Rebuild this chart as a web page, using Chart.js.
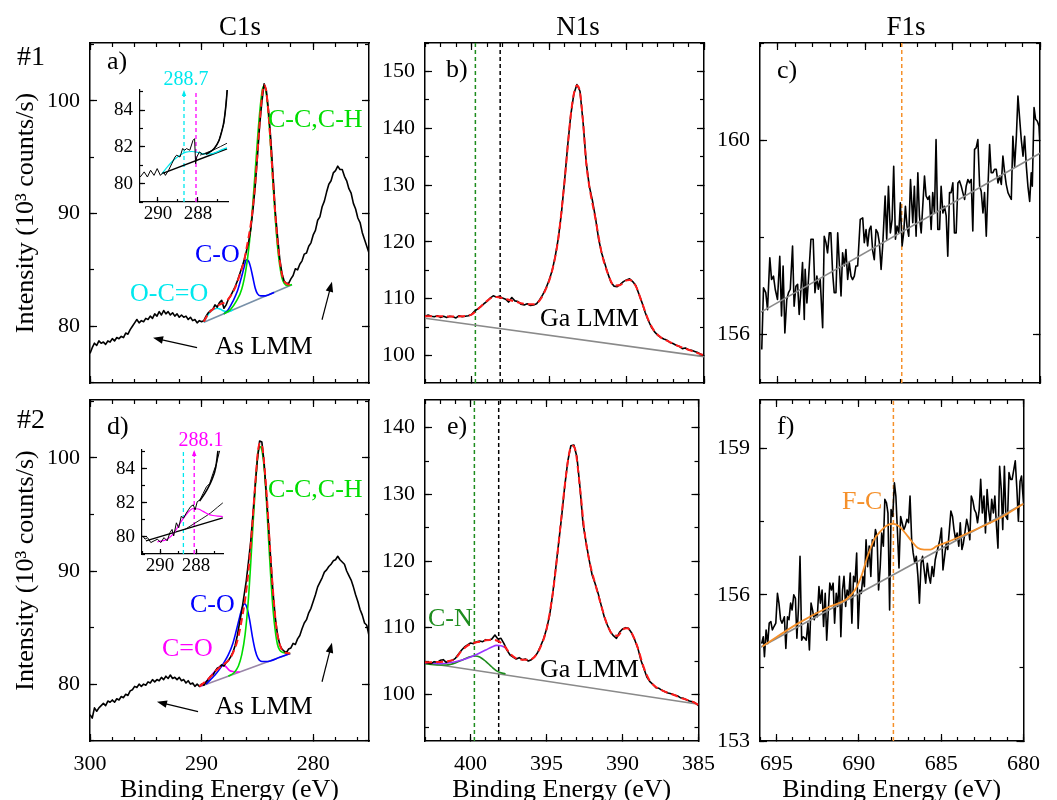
<!DOCTYPE html>
<html lang="en">
<head>
<meta charset="utf-8">
<title>XPS C1s, N1s and F1s spectra</title>
<script src="https://cdn.jsdelivr.net/npm/chart.js@4.4.0/dist/chart.umd.min.js"></script>
<style>
  html, body { margin: 0; padding: 0; background: #fff; overflow: hidden; }
  #figure { position: relative; width: 1057px; height: 800px; overflow: hidden; }
  #figure canvas { position: absolute; }
</style>
</head>
<body>
<div id="figure"></div>
<script>
// ---------- C1s, samples #1 and #2 (same energy grid) ----------
const c1sEnergy = [
  300.0, 299.8, 299.6, 299.4, 299.2, 299.0, 298.8, 298.6, 298.4, 298.2,
  298.0, 297.8, 297.6, 297.4, 297.2, 297.0, 296.8, 296.6, 296.4, 296.2,
  296.0, 295.8, 295.6, 295.4, 295.2, 295.0, 294.8, 294.6, 294.4, 294.2,
  294.0, 293.8, 293.6, 293.4, 293.2, 293.0, 292.8, 292.6, 292.4, 292.2,
  292.0, 291.8, 291.6, 291.4, 291.2, 291.0, 290.8, 290.6, 290.4, 290.2,
  290.0, 289.8, 289.6, 289.4, 289.2, 289.0, 288.8, 288.6, 288.4, 288.2,
  288.0, 287.8, 287.6, 287.4, 287.2, 287.0, 286.8, 286.6, 286.4, 286.2,
  286.0, 285.8, 285.6, 285.4, 285.2, 285.0, 284.8, 284.6, 284.4, 284.2,
  284.0, 283.8, 283.6, 283.4, 283.2, 283.0, 282.8, 282.6, 282.4, 282.2,
  282.0, 281.8, 281.6, 281.4, 281.2, 281.0, 280.8, 280.6, 280.4, 280.2,
  280.0, 279.8, 279.6, 279.4, 279.2, 279.0, 278.8, 278.6, 278.4, 278.2,
  278.0, 277.8, 277.6, 277.4, 277.2, 277.0, 276.8, 276.6, 276.4, 276.2,
  276.0, 275.8, 275.6, 275.4, 275.2, 275.0
];
const c1s1Counts = [
  77.6, 78.1, 78.5, 78.3, 78.7, 78.5, 78.6, 78.4, 78.7, 78.6,
  78.9, 78.7, 79.0, 78.9, 79.1, 79.0, 79.4, 79.3, 79.7, 80.0,
  80.3, 80.6, 80.3, 80.5, 80.4, 80.7, 80.6, 80.9, 80.7, 81.1,
  80.9, 81.3, 81.0, 81.4, 81.1, 81.3, 81.0, 81.2, 80.9, 81.1,
  80.8, 81.0, 80.8, 80.9, 80.6, 80.8, 80.5, 80.6, 80.3, 80.5,
  80.4, 80.5, 80.9, 81.2, 81.4, 81.5, 81.9, 81.7, 82.1, 82.3,
  81.6, 81.9, 82.4, 82.7, 83.1, 83.5, 84.0, 84.6, 85.2, 85.8,
  86.6, 87.4, 88.6, 90.3, 92.4, 95.0, 97.8, 99.9, 101.5, 100.9,
  99.1, 96.6, 93.4, 90.2, 88.0, 86.0, 84.7, 84.0, 83.8, 83.8,
  84.2, 84.5, 85.1, 85.0, 85.5, 85.8, 86.4, 86.5, 87.1, 87.4,
  88.1, 88.5, 89.4, 89.7, 90.6, 91.1, 91.9, 92.6, 92.9, 93.6,
  93.8, 94.2, 93.9, 93.9, 93.3, 92.9, 92.2, 91.8, 90.9, 90.4,
  89.6, 89.2, 88.3, 87.7, 87.1, 86.5
];
const c1s2Counts = [
  77.3, 77.0, 77.9, 77.6, 77.9, 78.1, 78.3, 78.1, 78.5, 78.4,
  78.6, 78.4, 78.7, 78.6, 78.9, 78.8, 79.1, 79.0, 79.4, 79.5,
  79.8, 79.7, 80.0, 79.8, 80.0, 79.9, 80.2, 80.1, 80.4, 80.2,
  80.4, 80.3, 80.6, 80.4, 80.7, 80.5, 80.8, 80.5, 80.6, 80.4,
  80.6, 80.3, 80.4, 80.1, 80.3, 80.0, 80.1, 79.8, 80.0, 79.8,
  80.0, 79.9, 80.2, 80.4, 80.7, 80.8, 81.1, 81.4, 81.5, 81.7,
  81.6, 81.9, 82.1, 82.4, 82.8, 83.4, 84.3, 85.4, 86.5, 87.8,
  89.1, 90.8, 92.6, 95.0, 97.6, 99.9, 101.5, 101.4, 99.6, 96.8,
  94.0, 90.9, 88.1, 85.9, 84.4, 83.5, 83.1, 82.9, 82.8, 83.1,
  83.2, 83.6, 83.5, 84.0, 84.3, 84.9, 85.4, 85.7, 86.3, 86.7,
  87.3, 87.9, 88.6, 89.0, 89.4, 89.9, 90.1, 90.4, 90.6, 90.9,
  91.0, 91.3, 91.0, 90.8, 90.6, 90.0, 89.6, 89.2, 88.6, 87.9,
  87.3, 86.6, 86.1, 85.4, 85.2, 84.3
];

// C1s #1 fit: sum, C-C/C-H, C-O, O-C=O, background
const c1s1SumEnergy = [289.8, 289.4, 289.0, 288.6, 288.2, 287.8, 287.4, 287.0, 286.6, 286.2, 285.9, 285.6, 285.4, 285.2, 285.0, 284.8, 284.6, 284.4, 284.2, 284.0, 283.8, 283.6, 283.4, 283.2, 283.0, 282.8, 282.6, 282.4, 282.2, 281.9];
const c1s1Sum = [80.4, 81.1, 81.5, 81.8, 82.0, 82.2, 82.7, 83.4, 84.5, 85.8, 87.3, 89.0, 90.6, 92.6, 95.3, 98.0, 100.3, 101.4, 100.8, 98.8, 96.0, 92.9, 90.0, 87.6, 85.8, 84.6, 84.0, 83.8, 83.7, 83.7];
const c1s1CCEnergy = [288.0, 287.4, 286.9, 286.4, 286.0, 285.7, 285.4, 285.1, 284.8, 284.55, 284.4, 284.2, 284.0, 283.8, 283.6, 283.4, 283.2, 283.0, 282.8, 282.6, 282.3, 281.9];
const c1s1CC = [81.1, 81.5, 82.2, 83.3, 85.2, 87.6, 91.0, 95.1, 98.9, 101.0, 101.3, 100.6, 98.6, 95.8, 92.6, 89.6, 87.1, 85.4, 84.3, 83.8, 83.6, 83.7];
const c1s1COEnergy = [288.0, 287.6, 287.2, 286.8, 286.5, 286.2, 286.0, 285.8, 285.6, 285.4, 285.2, 285.0, 284.7, 284.3, 283.5];
const c1s1CO = [81.1, 81.5, 82.2, 83.1, 84.1, 85.2, 85.9, 85.8, 85.2, 84.3, 83.4, 82.9, 82.7, 82.7, 83.0];
const c1s1OCOEnergy = [289.8, 289.5, 289.2, 288.9, 288.6, 288.3, 288.0, 287.6, 287.2];
const c1s1OCO = [80.35, 80.9, 81.3, 81.5, 81.6, 81.5, 81.35, 81.3, 81.45];
const c1s1BgEnergy = [289.8, 281.9];
const c1s1Bg = [80.35, 83.68];

// C1s #2 fit: sum, C-C/C-H, C-O, C=O, background
const c1s2SumEnergy = [290.2, 289.7, 289.2, 288.7, 288.1, 287.5, 287.0, 286.7, 286.4, 286.1, 285.8, 285.5, 285.2, 284.95, 284.75, 284.55, 284.35, 284.15, 283.9, 283.6, 283.3, 283.0, 282.7, 282.4, 282.06];
const c1s2Sum = [79.8, 80.2, 80.65, 81.2, 81.7, 82.2, 83.2, 84.2, 85.7, 87.5, 90.0, 93.5, 97.6, 100.6, 101.3, 100.9, 99.0, 96.5, 92.5, 88.2, 85.0, 83.5, 82.9, 82.75, 82.71];
const c1s2CCEnergy = [287.6, 287.1, 286.7, 286.4, 286.1, 285.8, 285.5, 285.2, 284.95, 284.78, 284.6, 284.4, 284.2, 284.0, 283.8, 283.6, 283.4, 283.2, 283.0, 282.7, 282.4, 282.06];
const c1s2CC = [80.7, 81.0, 81.6, 82.6, 84.4, 87.6, 92.3, 97.2, 100.3, 101.0, 100.7, 99.2, 96.4, 92.8, 89.4, 86.6, 84.7, 83.5, 83.0, 82.8, 82.75, 82.71];
const c1s2COEnergy = [289.6, 289.2, 288.8, 288.4, 288.0, 287.6, 287.2, 286.9, 286.6, 286.35, 286.15, 285.95, 285.7, 285.45, 285.2, 284.95, 284.6, 284.2, 283.0, 282.06];
const c1s2CO = [80.0, 80.4, 80.8, 81.3, 81.9, 82.6, 83.6, 84.7, 85.9, 86.8, 87.1, 86.8, 85.7, 84.2, 83.0, 82.3, 82.0, 82.0, 82.37, 82.71];
const c1s2CdOEnergy = [290.1, 289.6, 289.1, 288.6, 288.2, 287.9, 287.5, 287.1, 286.6];
const c1s2CdO = [79.8, 80.2, 80.8, 81.35, 81.65, 81.6, 81.2, 81.1, 81.07];
const c1s2BgEnergy = [290.19, 282.06];
const c1s2Bg = [79.76, 82.71];

// C1s close-ups of the 287-291 eV region
const c1s1ZoomEnergy = [290.89, 290.69, 290.53, 290.37, 290.2, 290.04, 289.88, 289.72, 289.63, 289.47, 289.31, 289.15, 289.07, 288.9, 288.77, 288.66, 288.58, 288.41, 288.25, 288.17, 288.12, 288.06, 287.93, 287.77, 287.6, 287.44, 287.28, 287.12, 286.95, 286.83, 286.71, 286.62, 286.54];
const c1s1ZoomCounts = [80.36, 80.64, 80.36, 80.73, 80.45, 80.82, 80.45, 80.64, 80.45, 80.73, 81.09, 81.45, 81.55, 81.45, 81.91, 81.82, 81.91, 81.82, 82.36, 82.45, 81.09, 81.45, 81.73, 81.6, 81.64, 81.7, 81.82, 82.0, 82.36, 82.8, 83.27, 84.1, 85.09];
const c1s1ZoomOCOEnergy = [289.8, 289.5, 289.2, 288.9, 288.6, 288.3, 288.0, 287.7, 287.4, 287.1, 286.8, 286.55];
const c1s1ZoomOCO = [80.55, 80.95, 81.3, 81.55, 81.72, 81.75, 81.7, 81.62, 81.62, 81.7, 81.85, 81.95];
const c1s1ZoomBgEnergy = [289.8, 286.55];
const c1s1ZoomBg = [80.55, 81.9];
const c1s1ZoomCOEnergy = [287.9, 287.2, 286.55];
const c1s1ZoomCO = [81.55, 81.85, 82.2];
const c1s1ZoomSumEnergy = [287.6, 287.2, 286.95, 286.8, 286.7, 286.6, 286.54];
const c1s1ZoomSum = [81.6, 81.9, 82.35, 82.9, 83.4, 84.3, 85.1];

const c1s2ZoomEnergy = [290.96, 290.83, 290.69, 290.51, 290.33, 290.14, 289.96, 289.78, 289.6, 289.45, 289.33, 289.24, 289.09, 288.96, 288.82, 288.69, 288.54, 288.42, 288.29, 288.15, 288.05, 287.93, 287.78, 287.6, 287.42, 287.24, 287.06, 286.87, 286.69];
const c1s2ZoomCounts = [80.06, 79.87, 79.96, 79.67, 79.77, 79.87, 79.67, 79.96, 79.77, 80.25, 80.44, 80.06, 80.83, 80.54, 81.21, 81.11, 81.4, 81.59, 81.79, 81.88, 81.59, 82.07, 82.17, 82.56, 82.94, 83.13, 83.71, 84.28, 85.05];
const c1s2ZoomCdOEnergy = [290.14, 289.6, 289.24, 288.87, 288.51, 288.15, 287.87, 287.6, 287.33, 287.06, 286.78, 286.51];
const c1s2ZoomCdO = [79.71, 79.87, 80.21, 80.83, 81.36, 81.67, 81.64, 81.5, 81.34, 81.26, 81.22, 81.2];
const c1s2ZoomBgEnergy = [290.78, 286.51];
const c1s2ZoomBg = [79.77, 81.12];
const c1s2ZoomCOEnergy = [288.6, 288.15, 287.7, 287.2, 286.8, 286.51];
const c1s2ZoomCO = [80.45, 80.75, 81.05, 81.4, 81.75, 82.0];
const c1s2ZoomSumEnergy = [287.8, 287.4, 287.1, 286.9, 286.78];
const c1s2ZoomSum = [82.1, 82.75, 83.4, 84.1, 85.05];

const c1sMarkers = [288.7, 288.1];   // O-C=O, C=O positions

// ---------- N1s ----------
const n1sEnergy = [
  403.0, 402.8, 402.6, 402.4, 402.2, 402.0, 401.8, 401.6, 401.4, 401.2,
  401.0, 400.8, 400.6, 400.4, 400.2, 400.0, 399.8, 399.6, 399.4, 399.2,
  399.0, 398.8, 398.6, 398.4, 398.2, 398.0, 397.8, 397.6, 397.4, 397.2,
  397.0, 396.8, 396.6, 396.4, 396.2, 396.0, 395.8, 395.6, 395.4, 395.2,
  395.0, 394.8, 394.6, 394.4, 394.2, 394.0, 393.8, 393.6, 393.4, 393.2,
  393.0, 392.8, 392.6, 392.4, 392.2, 392.0, 391.8, 391.6, 391.4, 391.2,
  391.0, 390.8, 390.6, 390.4, 390.2, 390.0, 389.8, 389.6, 389.4, 389.2,
  389.0, 388.8, 388.6, 388.4, 388.2, 388.0, 387.8, 387.6, 387.4, 387.2,
  387.0, 386.8, 386.6, 386.4, 386.2, 386.0, 385.8, 385.6, 385.4, 385.2,
  385.0
];
const n1s1Counts = [
  106.9, 107.1, 106.9, 106.8, 107.0, 106.7, 106.9, 106.7, 106.9, 106.8,
  106.6, 107.0, 106.8, 106.9, 107.0, 107.2, 107.8, 108.2, 108.6, 109.1,
  109.5, 110.1, 110.5, 110.3, 110.4, 110.1, 109.9, 109.4, 110.2, 109.6,
  109.5, 109.0, 108.9, 109.1, 108.8, 108.9, 109.1, 109.8, 110.7, 111.8,
  113.2, 114.9, 117.4, 120.6, 125.0, 130.6, 136.8, 142.2, 146.0, 147.7,
  146.5, 141.0, 134.0, 129.8, 127.3, 124.2, 120.5, 118.0, 116.2, 114.4,
  112.9, 112.2, 112.1, 112.5, 113.0, 113.3, 113.5, 113.0, 112.3, 110.8,
  109.3, 107.6, 106.2, 105.0, 104.2, 103.6, 103.2, 102.9, 102.7, 102.3,
  102.1, 101.8, 101.6, 101.2, 101.3, 101.0, 100.9, 100.7, 100.5, 100.2,
  100.0
];
const n1s2Counts = [
  104.8, 104.7, 104.6, 104.9, 104.8, 105.1, 105.2, 104.8, 105.0, 105.1,
  105.4, 106.0, 106.6, 107.1, 107.4, 107.7, 107.6, 107.9, 108.0, 107.9,
  108.2, 108.1, 108.3, 108.9, 108.3, 108.4, 107.6, 106.6, 105.9, 105.6,
  105.3, 105.5, 105.2, 105.3, 105.0, 105.2, 105.6, 106.2, 107.2, 108.3,
  109.8, 111.8, 115.0, 118.8, 122.8, 126.8, 131.3, 135.0, 137.3, 137.4,
  135.6, 131.0, 125.6, 122.8, 120.2, 117.9, 116.6, 115.1, 113.3, 111.6,
  110.4, 109.4, 108.8, 108.4, 109.3, 109.8, 110.0, 109.9, 109.2, 108.2,
  107.0, 105.2, 103.9, 102.6, 101.9, 101.5, 101.0, 100.9, 100.6, 100.4,
  100.2, 100.1, 99.9, 99.8, 99.5, 99.4, 99.2, 99.0, 98.9, 98.7,
  98.3
];
const n1s1FitEnergy = [403.0, 402.2, 401.4, 400.6, 400.0, 399.6, 399.2, 398.8, 398.4, 398.0, 397.6, 397.2, 396.8, 396.4, 396.0, 395.6, 395.2, 394.8, 394.4, 394.0, 393.6, 393.4, 393.2, 393.0, 392.8, 392.6, 392.4, 392.0, 391.6, 391.2, 390.8, 390.4, 390.0, 389.8, 389.4, 389.0, 388.6, 388.2, 387.8, 387.4, 387.0, 386.6, 386.2, 385.8, 385.4, 385.0];
const n1s1Fit = [106.9, 106.9, 106.85, 106.9, 107.2, 108.1, 109.1, 110.0, 110.3, 110.1, 109.8, 109.5, 109.2, 109.0, 109.0, 109.7, 111.7, 114.9, 120.6, 130.6, 142.2, 146.0, 147.5, 146.3, 141.0, 134.0, 129.8, 124.0, 118.0, 114.4, 112.3, 112.4, 113.2, 113.3, 112.2, 109.3, 106.3, 104.3, 103.2, 102.6, 102.1, 101.6, 101.2, 100.8, 100.4, 100.0];
const n1s2FitEnergy = [403.0, 402.2, 401.4, 401.0, 400.6, 400.2, 399.8, 399.4, 399.0, 398.6, 398.2, 397.8, 397.4, 397.0, 396.6, 396.2, 395.8, 395.4, 395.0, 394.6, 394.2, 393.8, 393.5, 393.3, 393.1, 392.8, 392.5, 392.2, 391.8, 391.4, 391.0, 390.6, 390.3, 390.0, 389.7, 389.4, 389.0, 388.6, 388.2, 387.8, 387.4, 387.0, 386.6, 386.2, 385.8, 385.4, 385.0];
const n1s2Fit = [104.8, 104.85, 105.0, 105.4, 106.5, 107.3, 107.7, 107.9, 108.1, 108.2, 108.0, 107.3, 106.1, 105.4, 105.2, 105.2, 105.6, 107.1, 109.8, 115.0, 122.8, 131.3, 136.3, 137.3, 136.6, 131.0, 124.3, 120.2, 116.6, 113.3, 110.4, 108.9, 108.8, 109.7, 109.9, 109.2, 107.0, 104.0, 102.0, 101.1, 100.6, 100.2, 99.9, 99.5, 99.2, 98.9, 98.4];
const n1s2CNEnergy = [403.0, 402.2, 401.6, 401.0, 400.5, 400.1, 399.7, 399.4, 399.0, 398.6, 398.2, 397.7];
const n1s2CN = [104.6, 104.4, 104.4, 104.7, 105.2, 105.6, 105.75, 105.6, 104.95, 104.1, 103.4, 103.05];
const n1s2HighEnergy = [403.0, 402.0, 401.5, 401.0, 400.5, 400.0, 399.5, 399.0, 398.6, 398.3, 398.0, 397.8, 397.6];
const n1s2High = [104.7, 104.6, 104.7, 104.9, 105.2, 105.6, 106.1, 106.65, 107.1, 107.35, 107.3, 107.1, 106.9];
const n1sBgEnergy = [403.0, 385.0];
const n1s1Bg = [106.55, 99.8];
const n1s2Bg = [104.75, 98.5];
const n1sMarkers = [399.75, 398.15];

// ---------- F1s ----------
const f1s1Energy = [
  695.90, 695.80, 695.67, 695.57, 695.44, 695.34, 695.23, 695.13, 695.00, 694.87,
  694.77, 694.68, 694.58, 694.47, 694.37, 694.27, 694.14, 694.05, 693.95, 693.85,
  693.76, 693.66, 693.57, 693.47, 693.42, 693.32, 693.23, 693.09, 692.96, 692.86,
  692.75, 692.67, 692.56, 692.42, 692.33, 692.23, 692.14, 692.04, 691.95, 691.85,
  691.76, 691.66, 691.56, 691.47, 691.37, 691.28, 691.18, 691.09, 690.99, 690.90,
  690.80, 690.71, 690.61, 690.52, 690.42, 690.27, 690.13, 690.04, 689.94, 689.85,
  689.75, 689.66, 689.56, 689.47, 689.37, 689.27, 689.18, 689.08, 688.99, 688.85,
  688.76, 688.66, 688.55, 688.45, 688.36, 688.26, 688.17, 688.07, 687.98, 687.88,
  687.79, 687.69, 687.60, 687.50, 687.40, 687.27, 687.18, 687.08, 686.98, 686.89,
  686.79, 686.70, 686.60, 686.51, 686.41, 686.32, 686.22, 686.13, 686.03, 685.94,
  685.84, 685.74, 685.65, 685.55, 685.46, 685.36, 685.27, 685.17, 685.08, 684.98,
  684.89, 684.79, 684.69, 684.60, 684.50, 684.41, 684.31, 684.22, 684.12, 684.03,
  683.93, 683.84, 683.74, 683.65, 683.55, 683.45, 683.36, 683.26, 683.17, 683.07,
  682.98, 682.88, 682.79, 682.69, 682.60, 682.50, 682.40, 682.31, 682.21, 682.12,
  682.02, 681.93, 681.83, 681.74, 681.64, 681.55, 681.45, 681.35, 681.26, 681.16,
  681.07, 680.97, 680.88, 680.78, 680.69, 680.59, 680.50, 680.44, 680.34, 680.25,
  680.15, 680.06, 680.00
];
const f1s1Counts = [
  155.69, 156.96, 156.86, 156.51, 157.58, 157.13, 157.20, 156.93, 156.72, 157.61,
  156.38, 157.41, 156.03, 156.72, 156.86, 156.93, 157.82, 156.58, 156.99, 157.03,
  156.41, 156.93, 157.48, 156.31, 157.34, 156.65, 157.13, 157.96, 157.96, 156.86,
  157.20, 156.93, 157.13, 156.14, 158.02, 157.89, 157.68, 158.09, 158.09, 157.27,
  156.86, 156.86, 158.09, 157.48, 156.79, 157.68, 157.41, 157.75, 157.13, 157.48,
  157.20, 157.13, 157.20, 157.41, 157.41, 158.37, 158.40, 157.89, 158.16, 157.82,
  158.16, 158.23, 157.72, 157.54, 158.16, 158.09, 157.89, 157.34, 157.82, 158.85,
  157.96, 159.05, 158.09, 158.37, 159.46, 157.96, 158.23, 158.09, 158.71, 157.82,
  158.09, 158.64, 158.23, 158.02, 159.19, 158.30, 159.05, 158.02, 159.33, 158.44,
  158.09, 158.64, 159.26, 158.85, 158.78, 158.85, 158.16, 158.92, 158.50, 160.01,
  158.16, 158.16, 159.05, 158.50, 158.64, 158.44, 157.61, 158.92, 158.92, 159.12,
  158.09, 158.09, 159.12, 159.16, 159.05, 158.92, 158.78, 159.05, 159.19, 159.12,
  159.19, 158.13, 159.81, 159.84, 160.01, 159.05, 158.95, 158.50, 158.92, 158.02,
  158.98, 159.91, 159.33, 159.33, 159.40, 159.40, 159.12, 159.26, 159.09, 159.67,
  159.33, 159.09, 158.92, 158.85, 158.78, 160.08, 159.46, 160.08, 160.91, 160.43,
  160.01, 159.67, 160.08, 159.46, 159.05, 158.74, 159.33, 159.05, 160.67, 160.43,
  160.39, 160.29, 159.88
];
const f1s2Energy = [
  695.90, 695.80, 695.73, 695.63, 695.53, 695.44, 695.34, 695.25, 695.15, 695.04,
  694.94, 694.85, 694.75, 694.66, 694.52, 694.43, 694.33, 694.24, 694.14, 694.05,
  693.95, 693.85, 693.76, 693.66,
  693.57, 693.47, 693.38, 693.28, 693.19, 693.09, 693.00, 692.90, 692.81, 692.71,
  692.61, 692.52, 692.42, 692.33, 692.23, 692.14, 692.04, 691.95, 691.85, 691.76,
  691.66, 691.56, 691.47, 691.37, 691.28, 691.18, 691.09, 690.99, 690.90, 690.80,
  690.71, 690.61, 690.52, 690.42, 690.32, 690.23, 690.13, 690.04, 689.94, 689.85,
  689.75, 689.66, 689.56, 689.47, 689.37, 689.27, 689.18, 689.08, 688.99, 688.89,
  688.80, 688.70, 688.61, 688.51, 688.42, 688.32, 688.23, 688.13, 688.04, 687.94,
  687.84, 687.75, 687.65, 687.56, 687.46, 687.37, 687.27, 687.18, 687.08, 686.98,
  686.89, 686.79, 686.70, 686.60, 686.51, 686.41, 686.32, 686.22, 686.13, 686.03,
  685.94, 685.84, 685.74, 685.65, 685.55, 685.46, 685.36, 685.27, 685.17, 685.08,
  684.98, 684.89, 684.79, 684.69, 684.60, 684.50, 684.41, 684.31, 684.22, 684.12,
  684.03, 683.93, 683.84, 683.74, 683.65, 683.55, 683.45, 683.36, 683.26, 683.17,
  683.07, 682.98, 682.88, 682.79, 682.69, 682.60, 682.50, 682.40, 682.31, 682.21,
  682.12, 682.02, 681.93, 681.83, 681.74, 681.64, 681.55, 681.45, 681.35, 681.26,
  681.16, 681.07, 680.97, 680.88, 680.78, 680.69, 680.59, 680.50, 680.40, 680.31,
  680.21, 680.12, 680.00
];
const f1s2Counts = [
  155.00, 155.14, 154.73, 155.28, 155.00, 155.42, 155.45, 155.28, 155.35, 155.42,
  156.03, 155.83, 155.49, 155.42, 155.55, 154.90, 155.55, 155.49, 155.83, 155.69,
  156.00, 155.93, 155.11, 155.76,
  156.79, 155.07, 155.14, 155.11, 155.07, 155.42, 154.87, 155.83, 155.69, 155.49,
  155.62, 155.55, 156.17, 155.83, 156.10, 155.35, 156.03, 155.07, 155.69, 156.24,
  156.10, 156.24, 155.42, 156.03, 155.76, 156.38, 155.14, 156.10, 156.38, 155.76,
  156.10, 155.97, 156.45, 155.42, 156.38, 156.27, 156.86, 155.31, 156.10, 156.03,
  156.38, 156.17, 157.13, 156.58, 157.00, 156.38, 157.13, 157.00, 157.34, 157.20,
  156.10, 156.58, 157.27, 157.00, 157.96, 157.89, 157.68, 155.69, 157.75, 157.61,
  158.30, 158.03, 157.27, 156.55, 157.61, 157.48, 157.34, 157.41, 157.55, 157.48,
  158.03, 157.13, 156.86, 156.65, 156.79, 156.38, 155.83, 156.65, 156.79, 156.51,
  156.24, 156.65, 156.38, 156.24, 156.58, 156.38, 156.72, 156.86, 157.00, 157.13,
  157.37, 156.51, 156.79, 157.06, 156.93, 157.34, 157.72, 157.61, 157.34, 157.13,
  157.27, 157.00, 157.48, 156.93, 157.06, 157.30, 157.55, 157.41, 157.13, 158.03,
  157.92, 157.75, 157.68, 157.48, 157.75, 158.37, 157.68, 158.03, 157.27, 158.16,
  157.75, 157.48, 157.96, 157.68, 158.03, 157.41, 156.96, 158.64, 158.16, 157.34,
  158.64, 157.61, 157.55, 158.51, 158.37, 158.37, 158.57, 158.75, 158.16, 157.51,
  158.33, 158.44, 157.89
];
const f1s2FitEnergy = [695.86, 693.66, 691.76, 690.8, 690.23, 689.85, 689.47, 689.08, 688.7, 688.32, 687.94, 687.56, 687.18, 686.79, 686.41, 686.03, 685.65, 685.27, 684.5, 683.17, 681.26, 680.0];
const f1s2Fit = [154.94, 155.42, 155.76, 155.9, 156.1, 156.38, 156.79, 157.13, 157.3, 157.42, 157.46, 157.41, 157.27, 157.1, 156.96, 156.93, 156.93, 157.0, 157.1, 157.3, 157.61, 157.87];
const f1sBgEnergy = [696.0, 680.0];
const f1s1Bg = [156.45, 159.73];
const f1s2Bg = [154.92, 157.87];
const f1sMarker = [687.9];

// ---------- axis limits ----------
const c1sRange = [275, 300], c1sCounts = [74.97, 105.12];
const n1sRange = [385, 403], n1s1Range = [95.15, 155.0], n1s2Range = [93, 144.15];
const f1sRange = [680, 696], f1s1Range = [155, 162], f1s2Range = [153, 160];
const zoom1Range = [286.5, 290.9], zoom2Range = [286.5, 291.0], zoomCounts = [79, 85.1];

const COL = {
  data: '#000000', sum: '#ff1a1a', cc: '#00dd00', co: '#0000ff', oco: '#00e8ee',
  cdo: '#ff00ff', cn: '#1e8c1e', high: '#9933ff', fc: '#f5902a', bg: '#8a8a8a'
};
const SERIF = "'Liberation Serif', 'Times New Roman', serif";

Chart.defaults.font.family = SERIF;
Chart.defaults.font.size = 22;
Chart.defaults.color = '#000';
Chart.defaults.animation = false;
Chart.defaults.events = [];

function line(xs, ys, color, width, dash, smooth) {
  return {
    data: xs.map((x, i) => ({ x: x, y: ys[i] })),
    borderColor: color,
    borderWidth: width,
    borderDash: dash || [],
    borderJoinStyle: 'round',
    pointRadius: 0,
    fill: false,
    tension: smooth ? 0.4 : 0,
    cubicInterpolationMode: smooth ? 'monotone' : 'default',
    xAxisID: 'x',
    yAxisID: 'y'
  };
}

function marker(e, range, color, width) {
  return line([e, e], range, color, width || 1.5, [4, 3]);
}

// one linear axis; negative tick length puts the marks inside the frame
function axis(position, range, step, len, size, o) {
  const horizontal = position === 'top' || position === 'bottom';
  return {
    type: 'linear',
    position: position,
    min: range[0],
    max: range[1],
    reverse: horizontal,
    weight: o.minor ? -1 : 0,
    grid: { drawOnChartArea: false, tickLength: -len, color: '#000', tickWidth: 1.2 },
    border: { display: !o.minor, color: '#000', width: o.frame || 1.5 },
    ticks: {
      display: !!o.labels, stepSize: step, autoSkip: false, includeBounds: false,
      maxRotation: 0, minRotation: 0, padding: o.pad || 0,
      font: { size: o.fontSize || 22 }, color: '#000'
    },
    title: o.title || { display: false },
    afterFit: function (s) { if (horizontal) s.height = size; else s.width = size; }
  };
}

function frame(p, ySize, xSize) {
  const inset = !!p.inset;
  const big = inset ? 5 : 7, small = inset ? 3 : 4;
  const fs = inset ? 19 : 22, fw = inset ? 1.2 : 1.5;
  const s = {
    x: axis('bottom', p.x, p.xStep[0], big, xSize, { labels: p.xLabels, pad: inset ? 6 : 17, fontSize: fs, frame: fw, title: p.xTitle }),
    xm: axis('bottom', p.x, p.xStep[1], small, 0, { minor: true }),
    y: axis('left', p.y, p.yStep[0], big, ySize, { labels: true, pad: inset ? 12 : 17, fontSize: fs, frame: fw, title: p.yTitle }),
    ym: axis('left', p.y, p.yStep[1], small, 0, { minor: true })
  };
  if (!inset) {
    s.xt = axis('top', p.x, p.xStep[0], big, 0, {});
    s.xtm = axis('top', p.x, p.xStep[1], small, 0, { minor: true });
    s.yr = axis('right', p.y, p.yStep[0], big, 0, {});
    s.yrm = axis('right', p.y, p.yStep[1], small, 0, { minor: true });
  }
  return s;
}

function drawArrow(ctx, x0, y0, x1, y1, color, head) {
  const a = Math.atan2(y1 - y0, x1 - x0);
  const c = Math.cos(a), s = Math.sin(a), w = head * 0.38;
  ctx.strokeStyle = color;
  ctx.fillStyle = color;
  ctx.lineWidth = 1.2;
  ctx.setLineDash([]);
  ctx.beginPath();
  ctx.moveTo(x0, y0);
  ctx.lineTo(x1 - c * head * 0.7, y1 - s * head * 0.7);
  ctx.stroke();
  ctx.beginPath();
  ctx.moveTo(x1, y1);
  ctx.lineTo(x1 - head * c + w * s, y1 - head * s - w * c);
  ctx.lineTo(x1 - head * c - w * s, y1 - head * s + w * c);
  ctx.closePath();
  ctx.fill();
}

// labels, arrows and arrow heads drawn on top of the plotted curves
function overlay(origin, texts, arrows, heads) {
  return {
    id: 'overlay',
    afterDatasetsDraw(chart) {
      const ctx = chart.ctx, xs = chart.scales.x, ys = chart.scales.y;
      ctx.save();
      (arrows || []).forEach(a => {
        drawArrow(ctx, xs.getPixelForValue(a.from[0]), ys.getPixelForValue(a.from[1]),
          xs.getPixelForValue(a.to[0]), ys.getPixelForValue(a.to[1]), '#000', 10);
      });
      (heads || []).forEach(h => {
        const px = xs.getPixelForValue(h.at), top = chart.chartArea.top;
        drawArrow(ctx, px, top + 7, px, top, h.color, 6);
      });
      texts.forEach(t => {
        ctx.font = (t.size || 26) + 'px ' + SERIF;
        ctx.fillStyle = t.color || '#000';
        ctx.textAlign = t.align || 'left';
        ctx.textBaseline = 'alphabetic';
        ctx.fillText(t.text, t.x - origin[0], t.y - origin[1]);
      });
      ctx.restore();
    }
  };
}

// canvases leave >= 31 px of room above and below the plot area, so the
// half-height of the end tick labels never squeezes the frame
function panel(p) {
  const r = p.rect, a = p.area;
  const c = document.createElement('canvas');
  c.width = r[2];
  c.height = r[3];
  c.style.left = r[0] + 'px';
  c.style.top = r[1] + 'px';
  c.style.width = r[2] + 'px';
  c.style.height = r[3] + 'px';
  document.getElementById('figure').appendChild(c);
  return new Chart(c, {
    type: 'line',
    data: { datasets: p.datasets },
    options: {
      responsive: false,
      devicePixelRatio: 1,
      animation: false,
      layout: { autoPadding: false, padding: { left: 0, top: a[1] - r[1], right: r[0] + r[2] - a[2], bottom: 0 } },
      scales: frame(p, a[0] - r[0], r[1] + r[3] - a[3]),
      plugins: { legend: { display: false }, tooltip: { enabled: false }, title: { display: false } }
    },
    plugins: [overlay([r[0], r[1]], p.texts || [], p.arrows, p.heads)]
  });
}

const yTitle = { display: true, text: 'Intensity (10³ counts/s)', font: { size: 26 }, padding: { top: 11, bottom: 0 }, color: '#000' };
const xTitle = { display: true, text: 'Binding Energy (eV)', font: { size: 26 }, padding: { top: 0, bottom: 6 }, color: '#000' };

// a) C1s #1
panel({
  rect: [0, 0, 374, 416], area: [90, 43, 369, 383],
  x: c1sRange, xStep: [10, 2], y: c1sCounts, yStep: [10, 5], yTitle: yTitle,
  datasets: [
    line(c1s1SumEnergy, c1s1Sum, COL.sum, 2, [7, 4], true),
    line(c1sEnergy, c1s1Counts, COL.data, 1.6),
    line(c1s1CCEnergy, c1s1CC, COL.cc, 1.6, null, true),
    line(c1s1COEnergy, c1s1CO, COL.co, 1.6, null, true),
    line(c1s1OCOEnergy, c1s1OCO, COL.oco, 1.6, null, true),
    line(c1s1BgEnergy, c1s1Bg, '#7890a8', 1.6)
  ],
  texts: [
    { text: 'C1s', x: 240, y: 35, size: 27, align: 'center' },
    { text: '#1', x: 17, y: 65, size: 28 },
    { text: 'a)', x: 107, y: 69 },
    { text: 'C-C,C-H', x: 268, y: 127, color: COL.cc },
    { text: 'C-O', x: 195, y: 262, color: COL.co },
    { text: 'O-C=O', x: 130, y: 301, color: COL.oco },
    { text: 'As LMM', x: 215, y: 354 }
  ],
  arrows: [
    { from: [290.41, 78.10], to: [294.35, 78.98] },
    { from: [279.21, 80.58], to: [278.32, 83.94] }
  ]
});

// b) N1s #1
panel({
  rect: [372, 0, 338, 416], area: [425, 43, 704, 383],
  x: n1sRange, xStep: [5, 1], y: n1s1Range, yStep: [10, 5],
  datasets: [
    line(n1s1FitEnergy, n1s1Fit, COL.sum, 2, [7, 4], true),
    line(n1sEnergy, n1s1Counts, COL.data, 1.6),
    line(n1sBgEnergy, n1s1Bg, COL.bg, 1.6),
    marker(n1sMarkers[0], n1s1Range, COL.cn),
    marker(n1sMarkers[1], n1s1Range, '#000')
  ],
  texts: [
    { text: 'N1s', x: 578, y: 35, size: 27, align: 'center' },
    { text: 'b)', x: 446, y: 77 },
    { text: 'Ga LMM', x: 540, y: 326 }
  ]
});

// c) F1s #1
panel({
  rect: [708, 0, 349, 416], area: [760, 43, 1040, 383],
  x: f1sRange, xStep: [5, 1], y: f1s1Range, yStep: [4, 2],
  datasets: [
    line(f1sBgEnergy, f1s1Bg, COL.bg, 1.6),
    line(f1s1Energy, f1s1Counts, COL.data, 1.6),
    marker(f1sMarker[0], f1s1Range, COL.fc)
  ],
  texts: [
    { text: 'F1s', x: 906, y: 35, size: 27, align: 'center' },
    { text: 'c)', x: 777, y: 78 }
  ]
});

// d) C1s #2
panel({
  rect: [0, 366, 374, 446], area: [90, 400, 369, 741],
  x: c1sRange, xStep: [10, 2], xLabels: true, xTitle: xTitle,
  y: c1sCounts, yStep: [10, 5], yTitle: yTitle,
  datasets: [
    line(c1s2SumEnergy, c1s2Sum, COL.sum, 2, [7, 4], true),
    line(c1sEnergy, c1s2Counts, COL.data, 1.6),
    line(c1s2CCEnergy, c1s2CC, COL.cc, 1.6, null, true),
    line(c1s2COEnergy, c1s2CO, COL.co, 1.6, null, true),
    line(c1s2CdOEnergy, c1s2CdO, COL.cdo, 1.6, null, true),
    line(c1s2BgEnergy, c1s2Bg, '#9a86a8', 1.6)
  ],
  texts: [
    { text: '#2', x: 17, y: 428, size: 28 },
    { text: 'd)', x: 107, y: 434 },
    { text: 'C-C,C-H', x: 268, y: 497, color: COL.cc },
    { text: 'C-O', x: 190, y: 612, color: COL.co },
    { text: 'C=O', x: 162, y: 656, color: COL.cdo },
    { text: 'As LMM', x: 215, y: 714 }
  ],
  arrows: [
    { from: [290.32, 77.56], to: [294.0, 78.44] },
    { from: [279.21, 80.21], to: [278.32, 83.65] }
  ]
});

// e) N1s #2
panel({
  rect: [372, 366, 360, 446], area: [425, 400, 704, 741],
  x: n1sRange, xStep: [5, 1], xLabels: true, xTitle: xTitle,
  y: n1s2Range, yStep: [10, 5],
  datasets: [
    line(n1s2FitEnergy, n1s2Fit, COL.sum, 2, [7, 4], true),
    line(n1sEnergy, n1s2Counts, COL.data, 1.6),
    line(n1s2HighEnergy, n1s2High, COL.high, 1.6, null, true),
    line(n1s2CNEnergy, n1s2CN, COL.cn, 1.6, null, true),
    line(n1sBgEnergy, n1s2Bg, COL.bg, 1.6),
    marker(n1sMarkers[0], n1s2Range, COL.cn),
    marker(n1sMarkers[1], n1s2Range, '#000')
  ],
  texts: [
    { text: 'e)', x: 447, y: 434 },
    { text: 'C-N', x: 428, y: 626, color: COL.cn },
    { text: 'Ga LMM', x: 540, y: 677 }
  ]
});

// f) F1s #2
panel({
  rect: [708, 366, 349, 446], area: [760, 400, 1040, 741],
  x: f1sRange, xStep: [5, 1], xLabels: true, xTitle: xTitle,
  y: f1s2Range, yStep: [3, 1.5],
  datasets: [
    line(f1s2FitEnergy, f1s2Fit, COL.fc, 1.8, null, true),
    line(f1sBgEnergy, f1s2Bg, COL.bg, 1.6),
    line(f1s2Energy, f1s2Counts, COL.data, 1.6),
    marker(f1sMarker[0], f1s2Range, COL.fc)
  ],
  texts: [
    { text: 'f)', x: 777, y: 434 },
    { text: 'F-C', x: 842, y: 509, color: COL.fc }
  ]
});

// close-up of the high-energy shoulder, sample #1
panel({
  inset: true,
  rect: [106, 64, 128, 162], area: [140, 90, 228, 202],
  x: zoom1Range, xStep: [2, 1], xLabels: true, y: zoomCounts, yStep: [2, 1],
  datasets: [
    line(c1s1ZoomSumEnergy, c1s1ZoomSum, '#000', 1.6, null, true),
    line(c1s1ZoomEnergy, c1s1ZoomCounts, '#000', 1.0),
    line(c1s1ZoomOCOEnergy, c1s1ZoomOCO, COL.oco, 1.2, null, true),
    line(c1s1ZoomCOEnergy, c1s1ZoomCO, '#000', 0.9, null, true),
    line(c1s1ZoomBgEnergy, c1s1ZoomBg, '#000', 1.4),
    marker(c1sMarkers[0], zoomCounts, COL.oco, 1.3),
    marker(c1sMarkers[1], zoomCounts, COL.cdo, 1.3)
  ],
  heads: [{ at: c1sMarkers[0], color: COL.oco }],
  texts: [{ text: '288.7', x: 186, y: 85, size: 20, color: COL.oco, align: 'center' }]
});

// close-up of the high-energy shoulder, sample #2
panel({
  inset: true,
  rect: [108, 424, 124, 154], area: [142, 450, 223, 554],
  x: zoom2Range, xStep: [2, 1], xLabels: true, y: zoomCounts, yStep: [2, 1],
  datasets: [
    line(c1s2ZoomSumEnergy, c1s2ZoomSum, '#000', 1.6, null, true),
    line(c1s2ZoomEnergy, c1s2ZoomCounts, '#000', 1.0),
    line(c1s2ZoomCdOEnergy, c1s2ZoomCdO, COL.cdo, 1.2, null, true),
    line(c1s2ZoomCOEnergy, c1s2ZoomCO, '#000', 0.9, null, true),
    line(c1s2ZoomBgEnergy, c1s2ZoomBg, '#000', 1.4),
    marker(c1sMarkers[0], zoomCounts, COL.oco, 1.3),
    marker(c1sMarkers[1], zoomCounts, COL.cdo, 1.3)
  ],
  heads: [{ at: c1sMarkers[1], color: COL.cdo }],
  texts: [{ text: '288.1', x: 201, y: 446, size: 20, color: COL.cdo, align: 'center' }]
});
</script>
</body>
</html>
